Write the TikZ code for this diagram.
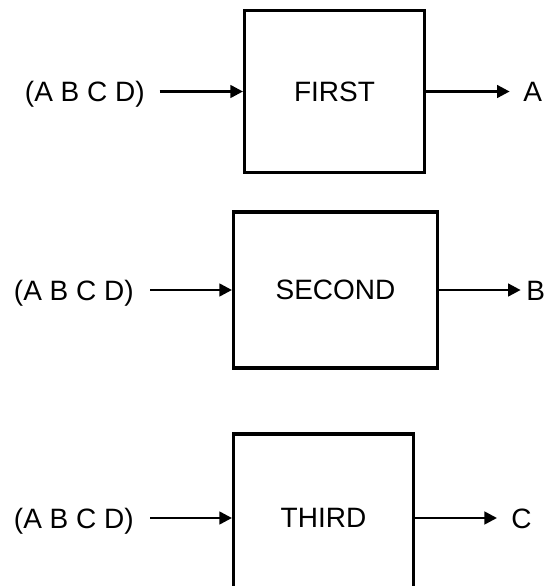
\documentclass[tikz,border=0pt]{standalone}
\usepackage{fontspec}
\setmainfont{Liberation Sans}
\usetikzlibrary{arrows.meta}
\begin{document}
\begin{tikzpicture}[x=0.75pt,y=-0.75pt,
  every node/.style={font=\fontsize{21}{25}\selectfont},
  blk/.style={draw, line width=2.3pt, inner sep=0pt},
  lbl/.style={inner sep=0pt},
  conn/.style={line width=2pt, -{Triangle[length=9.5pt,width=9.5pt]}}]
\useasboundingbox (0,0) rectangle (553,586);
\clip (0,0) rectangle (553,586);
% row 1
\node[blk, minimum width=135pt, minimum height=121.5pt] (b1) at (334.5,91.5) {FIRST};
\node[lbl, anchor=base east] (in1) at (145,101) {(A B C D)};
\node[lbl, anchor=base west] (o1) at (523,101) {A};
\draw[conn, shorten <=11pt] (in1.east |- b1.west) -- (b1.west);
\draw[conn, shorten >=10pt] (b1.east) -- (b1.east -| o1.west);
% row 2
\node[blk, minimum width=153pt, minimum height=117pt] (b2) at (335.5,290) {SECOND};
\node[lbl, anchor=base east] (in2) at (134,300) {(A B C D)};
\node[lbl, anchor=base west] (o2) at (526,300) {B};
\draw[conn, shorten <=12pt] (in2.east |- b2.west) -- (b2.west);
\draw[conn, shorten >=4pt] (b2.east) -- (b2.east -| o2.west);
% row 3
\node[blk, minimum width=135pt, minimum height=126pt] (b3) at (323.5,518) {THIRD};
\node[lbl, anchor=base east] (in3) at (134,528) {(A B C D)};
\node[lbl, anchor=base west] (o3) at (511,528) {C};
\draw[conn, shorten <=12pt] (in3.east |- b3.west) -- (b3.west);
\draw[conn, shorten >=10.5pt] (b3.east) -- (b3.east -| o3.west);
\end{tikzpicture}
\end{document}
